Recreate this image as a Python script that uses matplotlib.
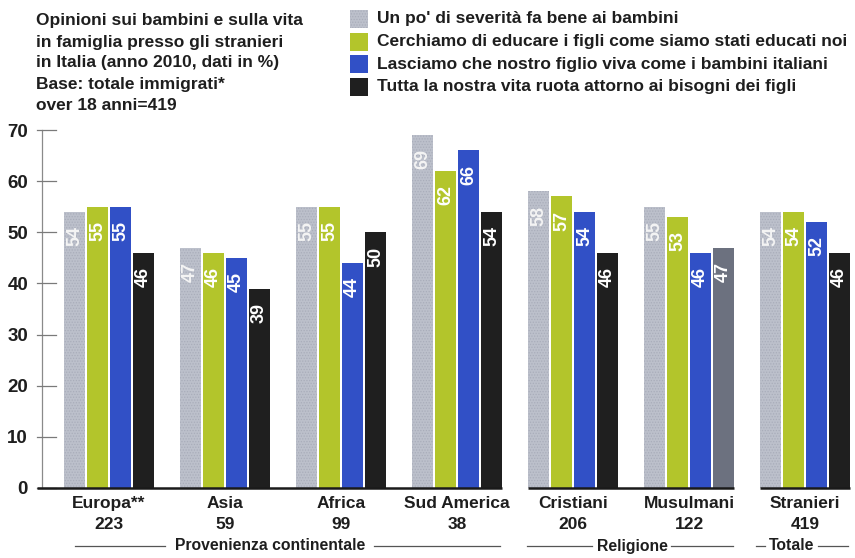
import matplotlib
matplotlib.use("Agg")
import matplotlib.pyplot as plt
from matplotlib.patches import Rectangle
import numpy as np

plt.rcParams["font.family"] = ["Liberation Sans", "DejaVu Sans"]
plt.rcParams["font.weight"] = "bold"
plt.rcParams["hatch.linewidth"] = 0.6

# data
categories = ["Europa**", "Asia", "Africa", "Sud America", "Cristiani", "Musulmani", "Stranieri"]
counts = ["223", "59", "99", "38", "206", "122", "419"]
severita = [54, 47, 55, 69, 58, 55, 54]
educare = [55, 46, 55, 62, 57, 53, 54]
italiani = [55, 45, 44, 66, 54, 46, 52]
bisogni = [46, 39, 50, 54, 46, 47, 46]

series_labels = [
    "Un po' di severità fa bene ai bambini",
    "Cerchiamo di educare i figli come siamo stati educati noi",
    "Lasciamo che nostro figlio viva come i bambini italiani",
    "Tutta la nostra vita ruota attorno ai bisogni dei figli",
]
group_names = ["Provenienza continentale", "Religione", "Totale"]
group_members = [[0, 1, 2, 3], [4, 5], [6]]

colors = ["#bcc0cb", "#b3c52b", "#3150c6", "#1f1f1f"]
hatch_cols = ["#a9adba", None, None, None]
musulmani_last = "#6c717f"
text_col = "#1e1e1e"

W, H = 855, 558
fig = plt.figure(figsize=(W / 100, H / 100), dpi=100)
ax = fig.add_axes([42 / W, 70 / H, 813 / W, 358 / H])

step = 23 / 116
width = 21 / 116
x = np.arange(len(categories))
series = [severita, educare, italiani, bisogni]

for j, vals in enumerate(series):
    cols = [colors[j]] * len(vals)
    if j == 3:
        cols[5] = musulmani_last
    xs = x + (j - 1.5) * step
    if hatch_cols[j]:
        ax.bar(xs, vals, width=width, color=cols, edgecolor=hatch_cols[j],
               hatch="......", linewidth=0, zorder=2)
    else:
        ax.bar(xs, vals, width=width, color=cols, linewidth=0, zorder=2)
    for xi, v in zip(xs, vals):
        tc = "#f4f4f4" if j == 0 else "white"
        ax.text(xi, v - 2.8, str(v), rotation=90, ha="center", va="top",
                color=tc, fontsize=13, fontweight="bold", zorder=3)

ax.set_xlim((42 - 109) / 116, (855 - 109) / 116)
ax.set_ylim(0, 70)
for s in ax.spines.values():
    s.set_visible(False)

# y axis line and ticks
ax.plot([0, 0], [0, 70], transform=ax.get_yaxis_transform(), color="#8a8a8a", lw=0.9, clip_on=False)
for t in range(0, 80, 10):
    ax.plot([-5 / 813, 14 / 813], [t, t], transform=ax.get_yaxis_transform(),
            color="#7a7a7a", lw=0.9, clip_on=False)
ax.set_yticks(range(0, 80, 10))
ax.tick_params(axis="y", length=0, pad=10, labelsize=13.5, labelcolor=text_col)
for lab in ax.get_yticklabels():
    lab.set_fontweight("bold")

# baselines per group
for gi, members in enumerate(group_members):
    left = x[members[0]] - 1.5 * step - width / 2
    right = x[members[-1]] + 1.5 * step + width / 2
    if gi == 0:
        left = (37 - 109) / 116
    ax.plot([left, right], [0, 0], color="#1a1a1a", lw=1.8, clip_on=False, zorder=4,
            solid_capstyle="butt")

# category labels
ax.set_xticks(x)
ax.set_xticklabels([f"{c}\n{n}" for c, n in zip(categories, counts)],
                   fontsize=12.5, fontweight="bold", color=text_col, linespacing=1.5)
ax.tick_params(axis="x", length=0, pad=6)

# group lines with labels (pixel spans of left line, right line, text centre)
ytr = ax.get_xaxis_transform()
yg = -(546 - 488) / 358
px = lambda p: (p - 109) / 116
spans = [((75, 165), (374, 500), 270),
         ((527, 592), (671, 733), 632),
         ((756, 765), (818, 848), 792)]
for (ls, rs, c), name in zip(spans, group_names):
    for a, b in (ls, rs):
        ax.plot([px(a), px(b)], [yg, yg], transform=ytr, color="#555555", lw=0.9, clip_on=False)
    ax.text(px(c), yg, name, transform=ytr, ha="center", va="center", fontsize=11.3,
            fontweight="bold", color=text_col)

# title
title_lines = ["Opinioni sui bambini e sulla vita", "in famiglia presso gli stranieri",
               "in Italia (anno 2010, dati in %)", "Base: totale immigrati*", "over 18 anni=419"]
for i, line in enumerate(title_lines):
    fig.text(36 / W, 1 - (21 + 21 * i) / H, line, ha="left", va="center",
             fontsize=12.5, fontweight="bold", color=text_col)

# legend
for i, lab in enumerate(series_labels):
    yc = 19 + 22.5 * i
    fig.patches.append(Rectangle((350 / W, 1 - (yc + 9) / H), 18 / W, 18 / H,
                                 transform=fig.transFigure, facecolor=colors[i],
                                 edgecolor=hatch_cols[i] or "none",
                                 hatch="......" if hatch_cols[i] else None, linewidth=0))
    fig.text(377 / W, 1 - yc / H, lab, ha="left", va="center", fontsize=12.5,
             fontweight="bold", color=text_col)

fig.savefig("out.png", dpi=100)
